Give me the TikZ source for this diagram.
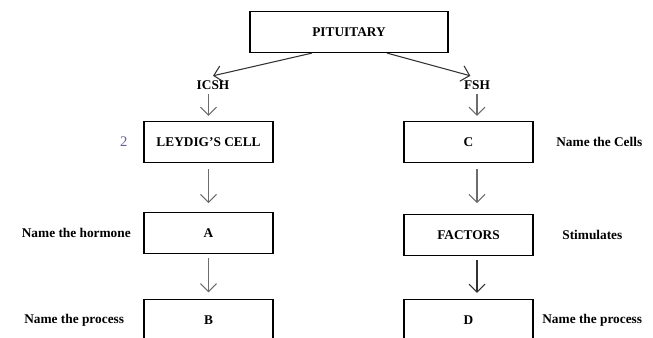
\documentclass[tikz,border=0pt]{standalone}
\usepackage{fontspec}
\setmainfont{Liberation Serif}
\usetikzlibrary{positioning,arrows.meta}

\begin{document}
\begin{tikzpicture}[node distance=36pt,
	every node/.style={font=\bfseries\fontsize{10}{12}\selectfont},
	box/.style={draw, line width=0.9pt, minimum width=96.75pt, minimum height=30.75pt},
	arr/.style={draw=gray!85!black, line width=0.8pt, -{Straight Barb[length=6pt,width=12pt]}},
	darkarr/.style={arr, draw=gray!40!black}]
	\useasboundingbox (0,0) rectangle (489.75pt,253.5pt);
	\clip (0,0) rectangle (489.75pt,253.5pt);
	\node[box, minimum width=148.5pt] (pit) at (261.75pt,229.5pt) {PITUITARY};
	\node (icsh) at (159.75pt,189.75pt) {ICSH};
	\node (fsh) at (357.75pt,189.75pt) {FSH};
	\node[box] (leydig) at (156.4pt,147pt) {LEYDIG'S CELL};
	\node[box] (a) [below=36.75pt of leydig] {A};
	\node[box] (b) [below=33.75pt of a] {B};
	\node[box] (c) at (351.4pt,147pt) {C};
	\node[box] (fac) [below=38.25pt of c] {FACTORS};
	\node[box] (d) [below=32pt of fac] {D};
	\node (two) [left=8.5pt of leydig, font=\fontsize{11}{13}\selectfont, text=blue!25!gray] {2};
	\node (hormone) [left=6pt of a] {Name the hormone};
	\node (process_l) [left=11pt of b] {Name the process};
	\node (cells) [right=13.5pt of c] {Name the Cells};
	\node (stim) [right=18pt of fac] {Stimulates};
	\node (process_r) [right=3pt of d] {Name the process};
	% pituitary to the two hormones
	\draw[darkarr] ([xshift=-27.75pt]pit.south) -- (icsh.north);
	\draw[darkarr] ([xshift=28.5pt]pit.south) -- ([xshift=-5pt]fsh.north);
	% left column
	\draw[arr, shorten >=3.75pt] (leydig.north |- icsh.south) -- (leydig.north);
	\draw[arr, shorten <=4.5pt, shorten >=6.75pt] (leydig.south) -- (a.north);
	\draw[arr, shorten <=3pt, shorten >=5.25pt] (a.south) -- (b.north);
	% right column
	\draw[arr, shorten >=3.75pt] (fsh.south) -- (fsh.south |- c.north);
	\draw[arr, shorten <=4.5pt, shorten >=8.25pt] (fsh.south |- c.south) -- (fsh.south |- fac.north);
	\draw[darkarr, shorten <=3pt, shorten >=4.5pt] (fsh.south |- fac.south) -- (fsh.south |- d.north);
\end{tikzpicture}
\end{document}
